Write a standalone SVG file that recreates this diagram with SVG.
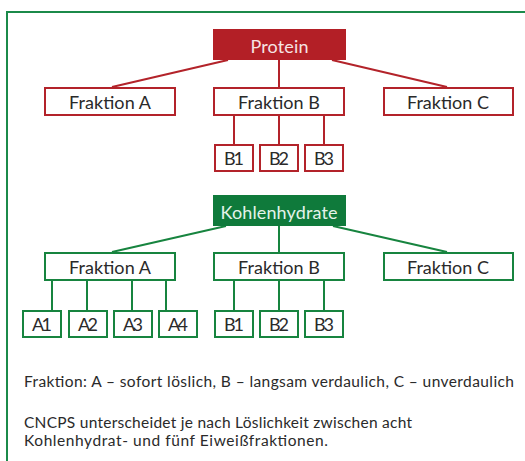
<svg xmlns="http://www.w3.org/2000/svg" width="525" height="461" viewBox="0 0 525 461">
<style>
.bg{fill:#ffffff}
.frame{fill:none;stroke:#1b8a4a;stroke-width:2}
.rbox{fill:#ffffff;stroke:#b3232a;stroke-width:2}
.gbox{fill:#ffffff;stroke:#17843f;stroke-width:2}
.rhead{fill:#b31f26;stroke:#b31f26;stroke-width:2}
.ghead{fill:#0f7a3b;stroke:#0f7a3b;stroke-width:2}
.rline{fill:none;stroke:#b3232a;stroke-width:2}
.gline{fill:none;stroke:#17843f;stroke-width:2}
text{font-family:Lato,"Open Sans","Liberation Sans",sans-serif}
.lbl{font-size:18px;fill:#2a2a2a;text-anchor:middle}
.rhl{font-size:18px;fill:#f6e4e4;text-anchor:middle}
.ghl{font-size:18px;fill:#e4f3ea;text-anchor:middle}
.note{font-size:15.5px;fill:#2a2a2a}
</style>
<rect class="bg" x="0" y="0" width="525" height="461"/>
<path class="frame" d="M7 461 V12 H525"/>

<g id="connectors">
  <path class="rline" d="M228 60 L112 87 M279 60 V87 M332 60 L447 87"/>
  <path class="rline" d="M234 116 V144 M279 116 V144 M324 116 V144"/>
  <path class="gline" d="M226 226 L112 252 M279 226 V252 M333 226 L447 252"/>
  <path class="gline" d="M52 281 V310 M87 281 V310 M132 281 V310 M166 281 V310"/>
  <path class="gline" d="M234 281 V310 M279 281 V310 M324 281 V310"/>
</g>

<g id="protein">
  <rect class="rhead" x="214" y="30" width="131" height="29"/>
  <text class="rhl" x="279.5" y="53" textLength="58">Protein</text>
</g>
<g id="p-fraktion-a">
  <rect class="rbox" x="45" y="88" width="130" height="27"/>
  <text class="lbl" x="110" y="108.5" textLength="82">Fraktion A</text>
</g>
<g id="p-fraktion-b">
  <rect class="rbox" x="214" y="88" width="130" height="27"/>
  <text class="lbl" x="279" y="108.5" textLength="82">Fraktion B</text>
</g>
<g id="p-fraktion-c">
  <rect class="rbox" x="384" y="88" width="129" height="27"/>
  <text class="lbl" x="448" y="108.5" textLength="82">Fraktion C</text>
</g>
<g id="p-b1">
  <rect class="rbox" x="215" y="145" width="38" height="26"/>
  <text class="lbl" x="234" y="165" textLength="20">B1</text>
</g>
<g id="p-b2">
  <rect class="rbox" x="260" y="145" width="38" height="26"/>
  <text class="lbl" x="279" y="165" textLength="20">B2</text>
</g>
<g id="p-b3">
  <rect class="rbox" x="305" y="145" width="38" height="26"/>
  <text class="lbl" x="324" y="165" textLength="20">B3</text>
</g>

<g id="kohlenhydrate">
  <rect class="ghead" x="214" y="196" width="131" height="29"/>
  <text class="ghl" x="279" y="218.5" textLength="117">Kohlenhydrate</text>
</g>
<g id="k-fraktion-a">
  <rect class="gbox" x="45" y="253" width="130" height="27"/>
  <text class="lbl" x="110" y="273.5" textLength="82">Fraktion A</text>
</g>
<g id="k-fraktion-b">
  <rect class="gbox" x="214" y="253" width="130" height="27"/>
  <text class="lbl" x="279" y="273.5" textLength="82">Fraktion B</text>
</g>
<g id="k-fraktion-c">
  <rect class="gbox" x="384" y="253" width="129" height="27"/>
  <text class="lbl" x="448" y="273.5" textLength="82">Fraktion C</text>
</g>
<g id="k-a1">
  <rect class="gbox" x="23" y="311" width="38" height="26"/>
  <text class="lbl" x="42" y="331" textLength="20">A1</text>
</g>
<g id="k-a2">
  <rect class="gbox" x="69" y="311" width="38" height="26"/>
  <text class="lbl" x="88" y="331" textLength="20">A2</text>
</g>
<g id="k-a3">
  <rect class="gbox" x="114" y="311" width="38" height="26"/>
  <text class="lbl" x="133" y="331" textLength="20">A3</text>
</g>
<g id="k-a4">
  <rect class="gbox" x="159" y="311" width="38" height="26"/>
  <text class="lbl" x="178" y="331" textLength="20">A4</text>
</g>
<g id="k-b1">
  <rect class="gbox" x="215" y="311" width="38" height="26"/>
  <text class="lbl" x="234" y="331" textLength="20">B1</text>
</g>
<g id="k-b2">
  <rect class="gbox" x="260" y="311" width="38" height="26"/>
  <text class="lbl" x="279" y="331" textLength="20">B2</text>
</g>
<g id="k-b3">
  <rect class="gbox" x="305" y="311" width="38" height="26"/>
  <text class="lbl" x="324" y="331" textLength="20">B3</text>
</g>

<g id="notes">
  <text class="note" x="24" y="387" textLength="490">Fraktion: A – sofort löslich, B – langsam verdaulich, C – unverdaulich</text>
  <text class="note" x="24" y="428" textLength="388">CNCPS unterscheidet je nach Löslichkeit zwischen acht</text>
  <text class="note" x="24" y="446" textLength="304">Kohlenhydrat- und fünf Eiweißfraktionen.</text>
</g>
</svg>
